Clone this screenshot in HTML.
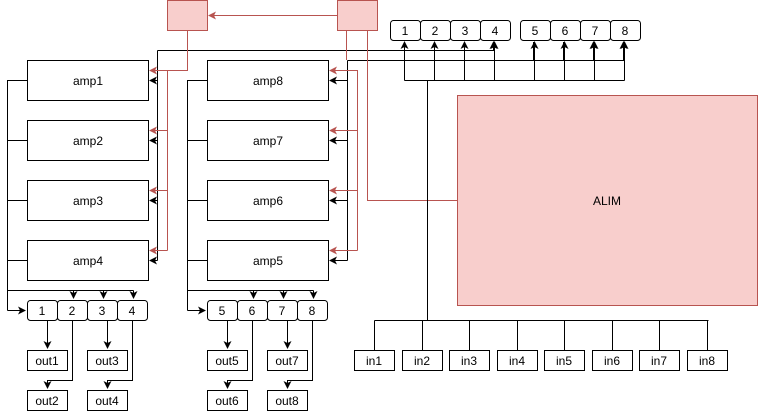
<!DOCTYPE html>
<html><head><style>
html,body{margin:0;padding:0;background:#fff;}
svg{display:block;font-family:"Liberation Sans",Arial,sans-serif;}
</style></head><body>
<svg width="759" height="412" viewBox="0 0 759 412" xmlns="http://www.w3.org/2000/svg">
<defs>
<marker id="ab" markerWidth="8" markerHeight="8" refX="7" refY="4" orient="auto" markerUnits="userSpaceOnUse"><path d="M0,0 L8,4 L0,8 L2,4z" fill="#000"/></marker>
<marker id="ar" markerWidth="8" markerHeight="8" refX="7" refY="4" orient="auto" markerUnits="userSpaceOnUse"><path d="M0,0 L8,4 L0,8 L2,4z" fill="#b85450"/></marker>
</defs>
<g fill="none" stroke-width="1">
<rect x="167.5" y="0.5" width="40" height="30" fill="#f8cecc" stroke="#b85450"/>
<rect x="337.5" y="0.5" width="40" height="30" fill="#f8cecc" stroke="#b85450"/>
<rect x="457.5" y="95.5" width="300" height="210" fill="#f8cecc" stroke="#b85450"/>
<path d="M337,15.5 H209" stroke="#b85450" marker-end="url(#ar)"/>
<path d="M157.5,50.5 V260.5" stroke="#000"/>
<path d="M157.5,50.5 H493.5 V42" stroke="#000" marker-end="url(#ab)"/>
<g stroke="#000" marker-end="url(#ab)">
<path d="M157.5,80.5 H150"/><path d="M157.5,140.5 H150"/><path d="M157.5,200.5 H150"/><path d="M157.5,260.5 H150"/>
</g>
<path d="M187.5,30 V70.5 H167.5 V250.5" stroke="#b85450"/>
<g stroke="#b85450" marker-end="url(#ar)">
<path d="M167.5,70.5 H150"/><path d="M167.5,130.5 H150"/><path d="M167.5,190.5 H150"/><path d="M167.5,250.5 H150"/>
</g>
<path d="M347.5,60.5 V260.5" stroke="#000"/>
<path d="M347.5,60.5 H623.5 V42" stroke="#000" marker-end="url(#ab)"/>
<path d="M533.5,60.5 V42 M563.5,60.5 V42 M593.5,60.5 V42" stroke="#000" marker-end="url(#ab)"/>
<g stroke="#000" marker-end="url(#ab)">
<path d="M347.5,80.5 H330"/><path d="M347.5,140.5 H330"/><path d="M347.5,200.5 H330"/><path d="M347.5,260.5 H330"/>
</g>
<path d="M346.5,30 V60 M347.5,70.5 H357.5 V250.5" stroke="#b85450"/>
<g stroke="#b85450" marker-end="url(#ar)">
<path d="M357.5,70.5 H330"/><path d="M357.5,130.5 H330"/><path d="M357.5,190.5 H330"/><path d="M357.5,250.5 H330"/>
</g>
<path d="M367.5,30 V200.5 H457" stroke="#b85450"/>
<path d="M404.5,80.5 H624.5" stroke="#000"/>
<g stroke="#000" marker-end="url(#ab)">
<path d="M404.5,80.5 V42"/><path d="M434.5,80.5 V42"/><path d="M464.5,80.5 V42"/><path d="M494.5,80.5 V42"/>
<path d="M534.5,80.5 V42"/><path d="M564.5,80.5 V42"/><path d="M594.5,80.5 V42"/><path d="M624.5,80.5 V42"/>
</g>
<path d="M427.5,80.5 V320.5 M374.5,320.5 H708.5" stroke="#000"/>
<path d="M374.5,320.5 V350 M422.5,320.5 V350 M469.5,320.5 V350 M517.5,320.5 V350 M564.5,320.5 V350 M612.5,320.5 V350 M659.5,320.5 V350 M707.5,320.5 V350" stroke="#000"/>
<path d="M27,80.5 H7.5 V310.5" stroke="#000"/>
<path d="M7.5,310.5 H25" stroke="#000" marker-end="url(#ab)"/>
<path d="M27,140.5 H7.5 M27,200.5 H7.5 M27,260.5 H7.5 M7.5,290.5 H133.5" stroke="#000"/>
<g stroke="#000" marker-end="url(#ab)">
<path d="M73.5,290.5 V298"/><path d="M103.5,290.5 V298"/><path d="M133.5,290.5 V298"/>
<path d="M47.5,320 V348"/><path d="M107.5,320 V348"/>
<path d="M72.5,320 V380.5 H47.5 V388"/><path d="M132.5,320 V380.5 H107.5 V388"/>
</g>
<path d="M207,80.5 H187.5 V310.5 M207,140.5 H187.5 M207,200.5 H187.5 M207,260.5 H187.5 M187.5,290.5 H313.5" stroke="#000"/>
<g stroke="#000" marker-end="url(#ab)">
<path d="M187.5,310.5 H205"/>
<path d="M253.5,290.5 V298"/><path d="M283.5,290.5 V298"/><path d="M313.5,290.5 V298"/>
<path d="M227.5,320 V348"/><path d="M287.5,320 V348"/>
<path d="M252.5,320 V380.5 H227.5 V388"/><path d="M312.5,320 V380.5 H287.5 V388"/>
</g>
</g>
<g fill="#fff" stroke="#000">
<rect x="27.5" y="60.5" width="121" height="40"/><rect x="27.5" y="120.5" width="121" height="40"/>
<rect x="27.5" y="180.5" width="121" height="40"/><rect x="27.5" y="240.5" width="121" height="40"/>
<rect x="207.5" y="60.5" width="121" height="40"/><rect x="207.5" y="120.5" width="121" height="40"/>
<rect x="207.5" y="180.5" width="121" height="40"/><rect x="207.5" y="240.5" width="121" height="40"/>
<rect x="390.5" y="20.5" width="30" height="20" rx="3"/><rect x="420.5" y="20.5" width="30" height="20" rx="3"/>
<rect x="450.5" y="20.5" width="30" height="20" rx="3"/><rect x="480.5" y="20.5" width="30" height="20" rx="3"/>
<rect x="520.5" y="20.5" width="30" height="20" rx="3"/><rect x="550.5" y="20.5" width="30" height="20" rx="3"/>
<rect x="580.5" y="20.5" width="30" height="20" rx="3"/><rect x="610.5" y="20.5" width="30" height="20" rx="3"/>
<rect x="27.5" y="300.5" width="30" height="20" rx="3"/><rect x="57.5" y="300.5" width="30" height="20" rx="3"/>
<rect x="87.5" y="300.5" width="30" height="20" rx="3"/><rect x="117.5" y="300.5" width="30" height="20" rx="3"/>
<rect x="207.5" y="300.5" width="30" height="20" rx="3"/><rect x="237.5" y="300.5" width="30" height="20" rx="3"/>
<rect x="267.5" y="300.5" width="30" height="20" rx="3"/><rect x="297.5" y="300.5" width="30" height="20" rx="3"/>
<rect x="27.5" y="350.5" width="40" height="20"/><rect x="87.5" y="350.5" width="40" height="20"/>
<rect x="27.5" y="390.5" width="40" height="20"/><rect x="87.5" y="390.5" width="40" height="20"/>
<rect x="207.5" y="350.5" width="40" height="20"/><rect x="267.5" y="350.5" width="40" height="20"/>
<rect x="207.5" y="390.5" width="40" height="20"/><rect x="267.5" y="390.5" width="40" height="20"/>
<rect x="354.5" y="350.5" width="40" height="20"/><rect x="402.5" y="350.5" width="40" height="20"/>
<rect x="449.5" y="350.5" width="40" height="20"/><rect x="497.5" y="350.5" width="40" height="20"/>
<rect x="544.5" y="350.5" width="40" height="20"/><rect x="592.5" y="350.5" width="40" height="20"/>
<rect x="639.5" y="350.5" width="40" height="20"/><rect x="687.5" y="350.5" width="40" height="20"/>
</g>
<g font-size="12" text-anchor="middle" fill="#000">
<text x="88" y="85">amp1</text><text x="88" y="145">amp2</text><text x="88" y="205">amp3</text><text x="88" y="265">amp4</text>
<text x="268" y="85">amp8</text><text x="268" y="145">amp7</text><text x="268" y="205">amp6</text><text x="268" y="265">amp5</text>
<text x="607" y="205">ALIM</text>
<text x="405" y="35">1</text><text x="435" y="35">2</text><text x="465" y="35">3</text><text x="495" y="35">4</text>
<text x="535" y="35">5</text><text x="565" y="35">6</text><text x="595" y="35">7</text><text x="625" y="35">8</text>
<text x="42" y="315">1</text><text x="72" y="315">2</text><text x="102" y="315">3</text><text x="132" y="315">4</text>
<text x="222" y="315">5</text><text x="252" y="315">6</text><text x="282" y="315">7</text><text x="312" y="315">8</text>
<text x="47" y="365">out1</text><text x="107" y="365">out3</text><text x="47" y="405">out2</text><text x="107" y="405">out4</text>
<text x="227" y="365">out5</text><text x="287" y="365">out7</text><text x="227" y="405">out6</text><text x="287" y="405">out8</text>
<text x="374" y="365">in1</text><text x="422" y="365">in2</text><text x="469" y="365">in3</text><text x="517" y="365">in4</text>
<text x="564" y="365">in5</text><text x="612" y="365">in6</text><text x="659" y="365">in7</text><text x="707" y="365">in8</text>
</g>
</svg>
</body></html>
